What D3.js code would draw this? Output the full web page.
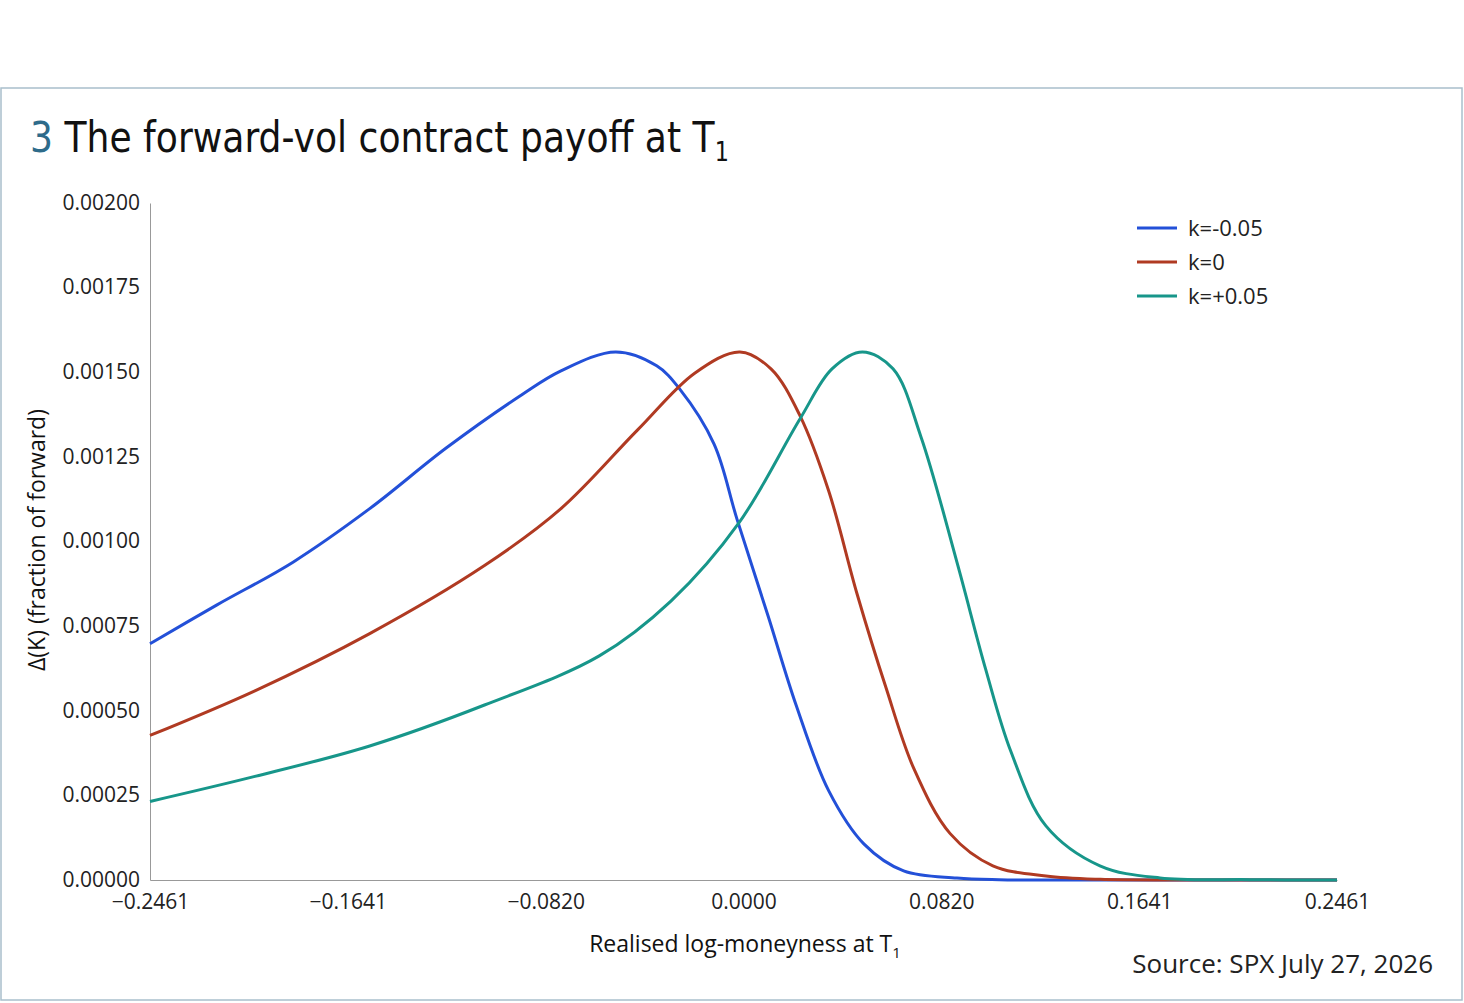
<!DOCTYPE html>
<html><head><meta charset="utf-8">
<script src="https://cdn.jsdelivr.net/npm/d3@7"></script>
<style>body{margin:0;background:#fff}</style>
</head><body>
<svg id="chart" width="1464" height="1003"></svg>
<script>
// values in units of 1e-3
const blueX = [-0.2461,-0.2185,-0.1868,-0.1550,-0.1233,-0.0916,-0.0757,-0.0530,-0.0360,-0.0265,-0.0122,-0.0027,0.0102,0.0218,0.0353,0.0500,0.0664,0.0885,0.106,0.13,0.2461];
const blueY = [0.698,0.812,0.939,1.097,1.276,1.435,1.504,1.56,1.519,1.451,1.288,1.066,0.780,0.517,0.264,0.106,0.027,0.006,0.001,0,0];
const redX = [-0.2461,-0.2026,-0.1550,-0.1074,-0.0757,-0.0440,-0.0201,-0.0015,0.0114,0.0234,0.0353,0.0471,0.0590,0.0707,0.0857,0.1034,0.1254,0.148,0.18,0.2461];
const redY = [0.427,0.559,0.728,0.929,1.097,1.329,1.498,1.56,1.51,1.372,1.150,0.845,0.570,0.328,0.137,0.042,0.012,0.002,0,0];
const tealX = [-0.2461,-0.2026,-0.1550,-0.1074,-0.0598,-0.0301,-0.0019,0.0234,0.0367,0.0493,0.0620,0.0736,0.0885,0.1004,0.1108,0.1254,0.1478,0.1727,0.21,0.2461];
const tealY = [0.232,0.306,0.396,0.517,0.662,0.824,1.055,1.362,1.51,1.56,1.51,1.309,0.939,0.623,0.381,0.160,0.042,0.006,0.001,0];

const seriesNames = ["k=-0.05","k=0","k=+0.05"];
const seriesColors = ["#2350d8","#b03a22","#17968a"];
const xTicks = [-0.2461,-0.1641,-0.0820,0,0.0820,0.1641,0.2461];
const yTicks = [0,0.25,0.5,0.75,1.0,1.25,1.5,1.75,2.0];

const series = [[blueX,blueY],[redX,redY],[tealX,tealY]].map(([xs,ys],i)=>({
  name: seriesNames[i], color: seriesColors[i],
  pts: xs.map((x,j)=>({x, y: ys[j]}))
}));

const svg = d3.select("#chart");
const font = "'Open Sans', sans-serif";

svg.append("rect").attr("x",1).attr("y",88).attr("width",1461).attr("height",912)
  .attr("fill","none").attr("stroke","#a9bfcc").attr("stroke-width",1.5);

// Title (squeezed to look condensed)
const title = svg.append("text").attr("transform","translate(30,152) scale(0.86,1)")
  .style("font-family","'DejaVu Sans', sans-serif")
  .style("font-size","42px").attr("fill","#111");
title.append("tspan").attr("fill","#2e6b8a").text("3 ");
title.append("tspan").text("The forward-vol contract payoff at T");
title.append("tspan").attr("dy",9).style("font-size","26px").text("1");

const x = d3.scaleLinear().domain([-0.2461,0.2461]).range([150,1337]);
const y = d3.scaleLinear().domain([0,2.0]).range([880,203]);

// axes
const xa = svg.append("g").attr("transform","translate(0,880)")
  .call(d3.axisBottom(x).tickValues(xTicks).tickSize(0).tickPadding(14)
    .tickFormat(d => (d < 0 ? "\u2212" : "") + Math.abs(d).toFixed(4)));
const ya = svg.append("g").attr("transform","translate(150,0)")
  .call(d3.axisLeft(y).tickValues(yTicks).tickSize(0).tickPadding(10)
    .tickFormat(d => (d/1000).toFixed(5)));
[xa,ya].forEach(a=>{
  a.select(".domain").attr("stroke","#999");
  a.selectAll("text").style("font-family",font).style("font-size","21px").attr("fill","#222");
});
ya.selectAll("text").attr("dy","0.3em");

// lines
const line = d3.line().x(d=>x(d.x)).y(d=>Math.min(y(d.y), 880)).curve(d3.curveCatmullRom.alpha(0.5));
svg.selectAll("path.s").data(series).join("path").attr("class","s")
  .attr("d",d=>line(d.pts)).attr("fill","none")
  .attr("stroke",d=>d.color).attr("stroke-width",3);

// legend
const lg = svg.selectAll("g.lg").data(series).join("g").attr("class","lg")
  .attr("transform",(d,i)=>`translate(1137,${228+i*34})`);
lg.append("line").attr("x1",0).attr("x2",40).attr("stroke",d=>d.color).attr("stroke-width",3);
lg.append("text").attr("x",51).attr("dy","0.35em").text(d=>d.name)
  .style("font-family",font).style("font-size","22px").attr("fill","#222");

// axis titles
const xt = svg.append("text").attr("x",745).attr("y",952).attr("text-anchor","middle")
  .style("font-family",font).style("font-size","23px").attr("fill","#111");
xt.append("tspan").text("Realised log-moneyness at T");
xt.append("tspan").attr("dy",6).style("font-size","15px").text("1");

svg.append("text").attr("transform","translate(45,540) rotate(-90)").attr("text-anchor","middle")
  .style("font-family",font).style("font-size","23px").attr("fill","#111")
  .text("\u0394(K) (fraction of forward)");

svg.append("text").attr("x",1433).attr("y",973).attr("text-anchor","end")
  .style("font-family",font).style("font-size","26px").attr("fill","#222")
  .text("Source: SPX July 27, 2026");
</script>
</body></html>
